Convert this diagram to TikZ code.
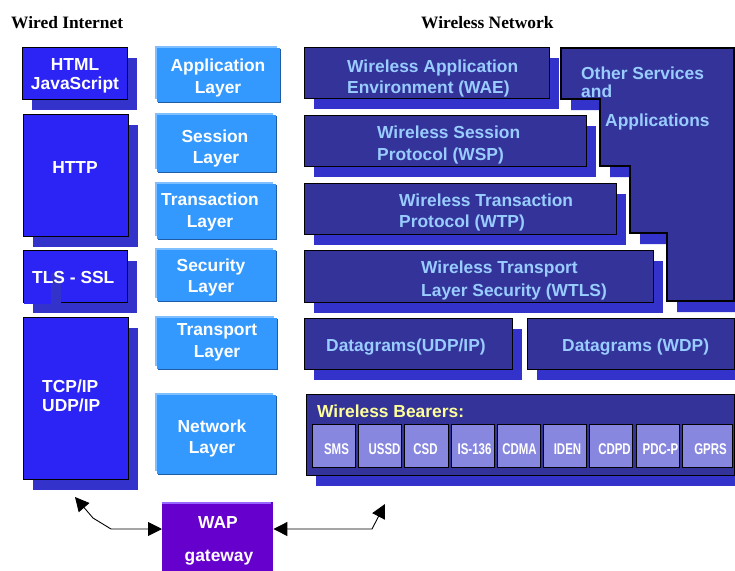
\documentclass[tikz,border=0pt]{standalone}
\usepackage{fontspec}
\setmainfont{Liberation Sans}
\newfontfamily\serifb{Liberation Serif}
\newfontfamily\narrowf[FakeStretch=0.74]{Liberation Sans}
\usetikzlibrary{arrows.meta}

\definecolor{wiredc}{HTML}{2B24F5}
\definecolor{shadc}{HTML}{3333CC}
\definecolor{navyc}{HTML}{333399}
\definecolor{navytxt}{HTML}{99CCFF}
\definecolor{layerc}{HTML}{3399FF}
\definecolor{layerhi}{HTML}{80BFFF}
\definecolor{layerlo}{HTML}{1F5CA6}
\definecolor{wapc}{HTML}{6600CC}
\definecolor{waphi}{HTML}{9966FF}
\definecolor{bearc}{HTML}{8787E0}
\definecolor{beartxt}{HTML}{FFFF99}

% plain box node from corner (x0,y0) to corner (x1,y1)
\newcommand\blk[6]{%
  \node[#1, anchor=north west, inner sep=0pt,
        minimum width={((#5)-(#3))*1pt}, minimum height={((#6)-(#4))*1pt}]
        (#2) at ({#3},{#4}) {};}
% box with a solid offset shadow
\newcommand\sblk[6]{%
  \fill[shadc] ({(#3)+10},{(#4)+11}) rectangle ({(#5)+10},{(#6)+11});
  \blk{#1}{#2}{#3}{#4}{#5}{#6}}
% bevelled layer box
\newcommand\lyr[5]{%
  \fill[layerhi] ({#2},{#3}) rectangle ({(#4)-4},{(#5)-4});
  \fill[layerlo] ({(#2)+3},{(#3)+3}) rectangle ({#4},{#5});
  \blk{layerbox}{#1}{(#2)+2}{(#3)+2}{(#4)-1}{(#5)-1}}

\begin{document}
\begin{tikzpicture}[x=1pt,y=-1pt,
  hdr/.style={font=\serifb\bfseries\fontsize{17.4}{20}\selectfont, inner sep=0pt},
  bold/.style={font=\bfseries\fontsize{17.4}{20}\selectfont, inner sep=0pt},
  wtxt/.style={bold, text=white},
  ntxt/.style={bold, text=navytxt},
  btxt/.style={font=\narrowf\bfseries\fontsize{15.5}{17}\selectfont, text=white, inner sep=0pt},
  wiredbox/.style={fill=wiredc, draw=black, line width=1.3pt},
  navybox/.style={fill=navyc, draw=black, line width=1.2pt},
  layerbox/.style={fill=layerc},
  bearbox/.style={fill=bearc, draw=black, line width=1.1pt},
  wapbox/.style={fill=wapc},
  conn/.style={draw=black, line width=0.9pt,
    {Triangle[length=14pt,width=14pt]}-{Triangle[length=14pt,width=14pt]}}]

\useasboundingbox (0,0) rectangle (735,570);
\clip (0,0) rectangle (735,570);

% headings
\node[hdr, anchor=base west] (hwired) at (11,28) {Wired Internet};
\node[hdr, anchor=base west] (hwless) at (421,28) {Wireless Network};

% wired internet stack
\sblk{wiredbox}{html}{22}{47}{127}{99}
\sblk{wiredbox}{http}{23}{114}{128}{236}
\sblk{wiredbox}{tls}{23}{250}{127}{302}
\fill[shadc] (34,273) rectangle (61,313);
\fill[wiredc] (24,263) rectangle (51,303.5);
\sblk{wiredbox}{tcp}{23}{317}{128}{479}

\node[wtxt, anchor=base] (html1) at (75,70) {HTML};
\node[wtxt, anchor=base] (html2) at (75,89) {JavaScript};
\node[wtxt, anchor=base] (http1) at (75,173) {HTTP};
\node[wtxt, anchor=base west] (tls1) at (32,283) {TLS - SSL};
\node[wtxt, anchor=base west] (tcp1) at (42,392) {TCP/IP};
\node[wtxt, anchor=base west] (tcp2) at (42,411) {UDP/IP};

% reference layers
\lyr{lapp}{155}{46}{281}{103}
\lyr{lses}{155}{113}{277}{173}
\lyr{ltra}{155}{182}{277}{240}
\lyr{lsec}{155}{248}{277}{302}
\lyr{ltrp}{155}{316}{278}{370}
\lyr{lnet}{155}{393}{277}{475}

\node[wtxt, anchor=base] (lapp1) at (218,71) {Application};
\node[wtxt, anchor=base] (lapp2) at (218,93) {Layer};
\node[wtxt, anchor=base] (lses1) at (215,142) {Session};
\node[wtxt, anchor=base] (lses2) at (216,163) {Layer};
\node[wtxt, anchor=base] (ltra1) at (210,205) {Transaction};
\node[wtxt, anchor=base] (ltra2) at (210,227) {Layer};
\node[wtxt, anchor=base] (lsec1) at (211,271) {Security};
\node[wtxt, anchor=base] (lsec2) at (211,292) {Layer};
\node[wtxt, anchor=base] (ltrp1) at (217,335) {Transport};
\node[wtxt, anchor=base] (ltrp2) at (217,357) {Layer};
\node[wtxt, anchor=base] (lnet1) at (212,432) {Network};
\node[wtxt, anchor=base] (lnet2) at (212,453) {Layer};

% wireless stack
\fill[shadc] (571,59) -- (744,59) -- (744,312) -- (677,312) -- (677,244)
  -- (640,244) -- (640,177) -- (610,177) -- (610,110) -- (571,110) -- cycle;
\filldraw[navybox] (561,48) -- (734,48) -- (734,301) -- (667,301) -- (667,233)
  -- (630,233) -- (630,166) -- (600,166) -- (600,99) -- (561,99) -- cycle;

\sblk{navybox}{wae}{304}{47}{549}{98}
\sblk{navybox}{wsp}{304}{115}{586}{166}
\sblk{navybox}{wtp}{304}{183}{616}{234}
\sblk{navybox}{wtls}{304}{250}{653}{302}
\sblk{navybox}{dudp}{304}{318}{512}{369}
\sblk{navybox}{dwdp}{527}{318}{734}{369}
\sblk{navybox}{bear}{306}{394}{734}{475}

\node[ntxt, anchor=base west] (oth1) at (581,79) {Other Services};
\node[ntxt, anchor=base west] (oth2) at (581,97) {and};
\node[ntxt, anchor=base west] (oth3) at (605,126) {Applications};
\node[ntxt, anchor=base west] (wae1) at (347,72) {Wireless Application};
\node[ntxt, anchor=base west] (wae2) at (347,93) {Environment (WAE)};
\node[ntxt, anchor=base west] (wsp1) at (377,138) {Wireless Session};
\node[ntxt, anchor=base west] (wsp2) at (377,160) {Protocol (WSP)};
\node[ntxt, anchor=base west] (wtp1) at (399,206) {Wireless Transaction};
\node[ntxt, anchor=base west] (wtp2) at (399,227) {Protocol (WTP)};
\node[ntxt, anchor=base west] (wtls1) at (421,273) {Wireless Transport};
\node[ntxt, anchor=base west] (wtls2) at (421,296) {Layer Security (WTLS)};
\node[ntxt, anchor=base west] (dudp1) at (326,351) {Datagrams(UDP/IP)};
\node[ntxt, anchor=base west] (dwdp1) at (562,351) {Datagrams (WDP)};

\node[bold, text=beartxt, anchor=base west] (bear1) at (317,417) {Wireless Bearers:};
\foreach \i/\xa/\xb/\xt/\lbl in {1/312/355/336.5/SMS, 2/358/401/384.5/USSD,
    3/404/448/425.5/CSD, 4/451/494/474.5/IS-136, 5/497/540/519.5/CDMA,
    6/543/586/567.5/IDEN, 7/589/632/614.5/CDPD, 8/636/679/660.5/PDC-P,
    9/682/732/710.5/GPRS}{
  \blk{bearbox}{bb\i}{\xa}{424}{\xb}{467}
  \node[btxt, anchor=base] (bt\i) at (\xt,454) {\lbl};
}

% gateway
\blk{wapbox}{wap}{162}{502}{273}{580}
\draw[waphi, line width=1.5pt] (162,502.75) -- (271,502.75);
\node[wtxt, anchor=base] (wap1) at (218,528) {WAP};
\node[wtxt, anchor=base] (wap2) at (219,561) {gateway};

% links from the gateway to both sides
\coordinate (ltip) at (75,497);
\coordinate (lb2) at (93,518);
\coordinate (lb1) at (111,529);
\coordinate (rb) at (372,529);
\coordinate (rtip) at (385,504);
\draw[conn] (ltip) -- (lb2) -- (lb1) -- (lb1 -| wap.west);
\draw[conn] (rb -| wap.east) -- (rb) -- (rtip);
\end{tikzpicture}
\end{document}
